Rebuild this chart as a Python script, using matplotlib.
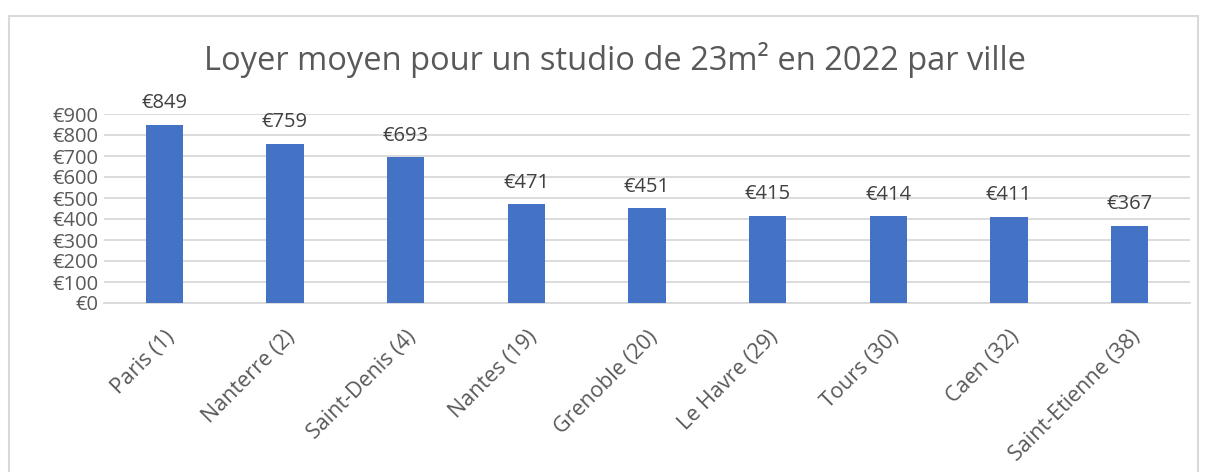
import numpy as np
import matplotlib.pyplot as plt
from matplotlib.patches import Rectangle

# data
villes = ['Paris (1)', 'Nanterre (2)', 'Saint-Denis (4)', 'Nantes (19)', 'Grenoble (20)',
          'Le Havre (29)', 'Tours (30)', 'Caen (32)', 'Saint-Etienne (38)']
loyers = [849, 759, 693, 471, 451, 415, 414, 411, 367]
yticks = [0, 100, 200, 300, 400, 500, 600, 700, 800, 900]

plt.rcParams['font.family'] = ['Open Sans', 'DejaVu Sans']
grey = '#595959'

fig = plt.figure(figsize=(12.09, 4.72), dpi=100)
fig.patches.append(Rectangle((9/1209, -0.1), (1198-9)/1209, 1.1 - 16/472,
                             transform=fig.transFigure, fill=False,
                             edgecolor='#D9D9D9', linewidth=1.5))

ax = fig.add_axes([104/1209, 1-303/472, (1190-104)/1209, (303-114)/472])
x = np.arange(len(villes))
bars = ax.bar(x, loyers, width=0.31, color='#4472C4', zorder=3)

for xi, v in zip(x, loyers):
    ax.text(xi, v + 55, '€%d' % v, ha='center', va='bottom', fontsize=14.5, color='#404040')

ax.set_xlim(-0.5, len(villes) - 0.5)
ax.set_ylim(0, 900)
ax.set_yticks(yticks)
ax.set_yticklabels(['€%d' % t for t in yticks], fontsize=14.5, color=grey)
ax.set_xticks(x)
ax.set_xticklabels(villes, rotation=45, ha='right', rotation_mode='anchor',
                   fontsize=15.5, color=grey)
ax.tick_params(axis='both', length=0, pad=4)
ax.tick_params(axis='x', pad=17)
ax.grid(axis='y', color='#D9D9D9', linewidth=1.3, zorder=0)
for s in ['top', 'right', 'left']:
    ax.spines[s].set_visible(False)
ax.spines['bottom'].set_color('#D9D9D9')
ax.spines['bottom'].set_linewidth(1.3)

fig.text(615/1209, 1-60/472, 'Loyer moyen pour un studio de 23m² en 2022 par ville',
         ha='center', va='center', fontsize=23.5, color=grey)

fig.savefig('out.png', dpi=100)
